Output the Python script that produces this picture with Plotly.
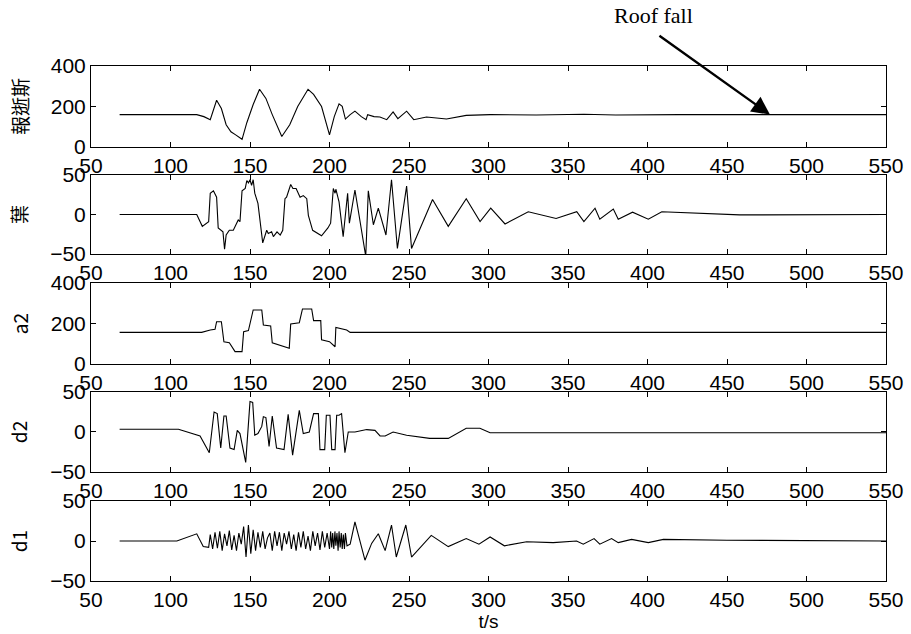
import plotly.graph_objects as go

# ---- data ----
t_sig = [68, 116.5, 121, 125, 129, 132, 135, 138, 141, 145, 148, 152, 156, 160, 164, 170, 175, 180,
         186.5, 190, 195, 200, 203, 206, 208, 210, 213, 216, 220, 223, 224, 228, 231.7, 236, 240,
         243, 248.5, 253, 261, 273.6, 286, 301, 330, 360, 380, 400, 420, 550]
v_sig = [160, 160, 150, 135, 231, 190, 110, 75, 60, 38, 120, 210, 285, 240, 160, 52, 110, 200,
         285, 260, 200, 60, 150, 213, 201, 138, 160, 177, 150, 135, 160, 150, 148, 135, 173,
         140, 177, 135, 148, 138, 156, 160, 158, 162, 158, 160, 160, 160]

t_det = [68, 116.5, 120, 124, 125, 127, 129, 130, 133, 134, 135, 137, 139.5, 142.6, 143.7, 145, 147,
         148, 149, 150, 151, 152, 153, 155, 158, 160.5, 161.5, 163.6, 164.7, 167, 169, 170.6, 172,
         173, 175.6, 177, 179, 181.5, 183.5, 185.7, 186.7, 189.4, 195, 199, 200.7, 202.4, 203.5, 204,
         206, 208.6, 211.4, 212.5, 216, 222.8, 224.4, 227.6, 230.7, 235.5, 239, 242.7, 248.5,
         251.6, 264.8, 274.7, 286, 294.7, 301.4, 310.4, 325, 342.5, 355.5, 360, 367, 370, 378.5,
         381.6, 390.6, 400.5, 409, 441, 458, 550]
v_det = [0, 0, -15, -9, 27, 30, 22, -17, -22, -44, -26, -20, -20, -7, -9, 30, 33,
         43, 40, 44, 37, 44, 27, 14, -36, -20, -24, -22, -28, -22, -26, -20, 20,
         22, 38, 33, 33, 22, 24, 20, -1, -20, -27, -17, -11, 33, 27, 32,
         16, -28, 27, -11, 31, -53, 30, -13, 8, -26, 44, -43, 36,
         -43, 19, -15, 20, -9, 8, -12, 3.5, -5, 3.5, -9, 8, -6, 7,
         -6, 3, -6, 3.5, 0.6, -0.5, 0]

t_a2 = [68, 119.6, 125, 128, 129, 132, 133.6, 137, 140.6, 145, 146, 149, 152, 157.4, 158.4, 163,
        164, 169, 174.7, 175.6, 181, 183, 188.8, 190, 194.5, 195, 200, 203.5, 204, 210.8, 213, 550]
v_a2 = [156, 156, 168, 171, 209, 209, 110, 105, 61, 61, 160, 165, 267, 267, 193, 188,
        105, 94, 78, 198, 204, 272, 272, 214, 214, 119, 110, 85, 181, 168, 156, 156]

t_d2 = [68, 105, 118.6, 124.4, 127.4, 129.4, 131.6, 133.6, 135, 137.4, 140, 142, 143.7, 147.3, 150,
        151.7, 153, 155, 157.4, 158.4, 160, 162, 164, 166.7, 171.4, 174, 176.8, 181, 183.5, 187.3,
        190, 193, 194, 197, 198, 200.3, 201.4, 203.5, 204.5, 206, 207.6, 209.7, 211.8, 216, 223.4,
        228.6, 231.8, 235, 240, 248.5, 263, 274.7, 286, 294.6, 301, 550]
v_d2 = [3.4, 3.4, -5, -26, 25, 23, -20, 20, 20, -20, -22, 2, -2, -38, 38,
        37, -4, -2, 7, 19, 18, -18, 20, -20, -22, 22, -29, 27, -2, 0,
        23, 23, -22, -22, 21, 21, -22, -22, 21, 21, 23, -26, 0, 0, 3,
        2, -5, -5, 0, -4, -8, -8, 4.6, 4.6, -1, -1]

t_d1 = [68, 104, 116.5, 120.6, 124,
        125, 126.5, 128, 129.5, 131, 132.5, 134, 135.5, 137, 138.5, 140, 141.5, 143, 144.5,
        146, 147.5, 149, 150.5, 152, 153.5, 155, 156.5, 158, 159.5, 161, 162.5, 164, 165.5,
        167, 168.5, 170, 171.5, 173, 174.5, 176, 177.5, 179, 180.5, 182, 183.5, 185, 186.5,
        188, 189.5, 191, 192.5, 194, 195.5, 197, 198.5, 200,
        200.7, 201.4, 202, 202.7, 203.4, 204, 204.7, 205.4, 206, 206.7, 207.4, 208, 208.7,
        209.4, 210, 211, 213,
        216, 222.3, 226.5, 230.7, 235, 239, 242, 248, 251.6, 264, 274.7, 286, 294, 301, 310, 324,
        340.7, 355.4, 359.6, 366.4, 370, 377.4, 381.6, 390, 400.5, 410, 450, 550]
v_d1 = [0, 0, 9, -7, -8,
        8, -10, 11, -9, 12, -12, 9, -6, 13, -11, 7, -12, 10, -4,
        18, -20, 20, -16, 14, -12, 11, -8, 12, -10, 4, 10, -12, 12,
        -6, 11, -12, 10, -4, 12, -10, 8, -12, 11, -8, 12, -10, 6,
        -12, 12, -6, 10, -11, 12, -8, 10, -10,
        12, -8, 10, -10, 12, -6, 10, -12, 12, -8, 10, -10, 8,
        -10, 10, -6, -4,
        24, -24, -3, 9, -12, 20, -20, 20, -20, 7, -7, 3, -4, 5, -6, -1,
        -2, 0, -4, 3, -4, 3, -2, 2, -2, 2, 1, 0]

y_titles = ["報逝斯", "葉", "a2", "d2", "d1"]
y_ranges = [[0, 400], [-50, 50], [0, 400], [-50, 50], [-50, 50]]
y_ticks = [[0, 200, 400], [-50, 0, 50], [0, 200, 400], [-50, 0, 50], [-50, 0, 50]]
x_ticks = [50, 100, 150, 200, 250, 300, 350, 400, 450, 500, 550]
series = [(t_sig, v_sig), (t_det, v_det), (t_a2, v_a2), (t_d2, v_d2), (t_d1, v_d1)]

domains = [[0.8427, 1.0], [0.6350, 0.7883], [0.4214, 0.5786], [0.2117, 0.3670], [0.0, 0.1553]]

fig = go.Figure()
tick_font = dict(family="Liberation Sans, Arial, sans-serif", size=21, color="black")

layout = dict(
    width=911, height=634,
    margin=dict(l=91, r=25, t=66, b=53),
    paper_bgcolor="white", plot_bgcolor="white",
    showlegend=False,
)

for i, (tt, vv) in enumerate(series):
    n = "" if i == 0 else str(i + 1)
    fig.add_trace(go.Scatter(x=tt, y=vv, mode="lines", line=dict(color="black", width=1.1),
                             xaxis="x" + n, yaxis="y" + n, cliponaxis=True))
    xa = dict(domain=[0, 1], range=[50, 550], tickvals=x_ticks, ticks="inside", ticklen=5,
              tickcolor="black", showline=True, linecolor="black", linewidth=1, mirror="ticks",
              showgrid=False, zeroline=False, tickfont=tick_font, anchor="y" + n,
              automargin=False)
    if i == 4:
        xa["title"] = dict(text="t/s", font=dict(family="Liberation Sans, Arial, sans-serif",
                                                   size=19, color="black"), standoff=4)
    ya = dict(domain=domains[i], range=y_ranges[i], tickvals=y_ticks[i], ticks="inside",
              ticklen=5, tickcolor="black", showline=True, linecolor="black", linewidth=1,
              mirror="ticks", showgrid=False, zeroline=False, tickfont=tick_font,
              anchor="x" + n, automargin=False,
              title=dict(text=y_titles[i],
                         font=dict(family="Noto Sans CJK TC, Liberation Sans, sans-serif",
                                   size=19, color="black"), standoff=17))
    layout["xaxis" + n] = xa
    layout["yaxis" + n] = ya

fig.update_layout(**layout)

fig.add_annotation(x=477, y=160, xref="x", yref="y", ax=-112, ay=-80,
                   text="", showarrow=True, arrowhead=2, arrowsize=1.5, arrowwidth=2.4,
                   arrowcolor="black")
fig.add_annotation(x=0.708, y=1.0, xref="paper", yref="paper", xanchor="center",
                   yanchor="middle", yshift=51, text="Roof fall", showarrow=False,
                   font=dict(family="Liberation Serif, Times New Roman, serif",
                             size=22, color="black"))
fig.write_html("out.html", config={"displayModeBar": False},
               post_script="document.body.style.margin='0';document.body.style.overflow='hidden';")
